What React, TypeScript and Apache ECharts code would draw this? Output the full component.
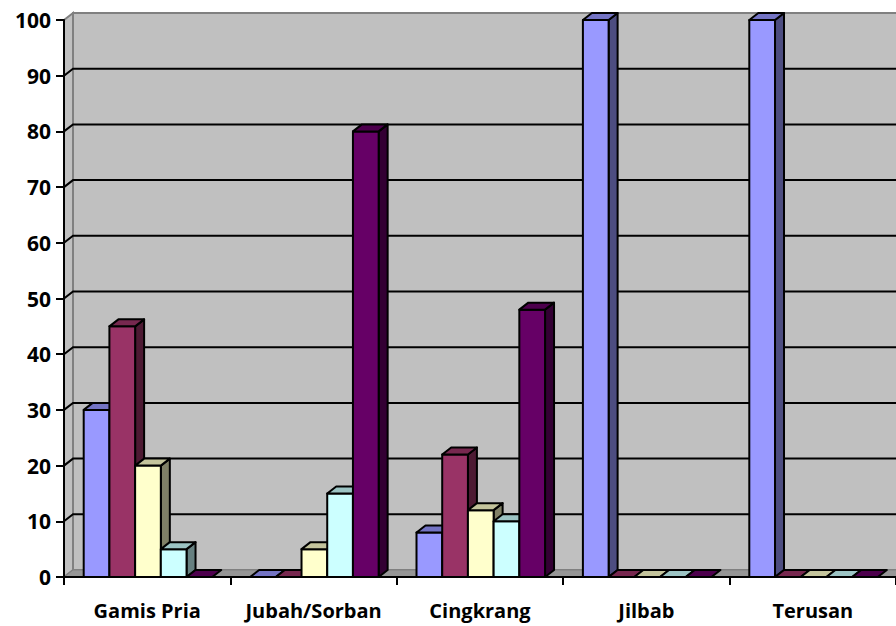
import React, { useEffect, useRef } from 'react';
import * as echarts from 'echarts';

const categories = ['Gamis Pria', 'Jubah/Sorban', 'Cingkrang', 'Jilbab', 'Terusan'];
const yTicks = [0, 10, 20, 30, 40, 50, 60, 70, 80, 90, 100];
const seriesA = [30, 0, 8, 100, 100];
const seriesB = [45, 0, 22, 0, 0];
const seriesC = [20, 5, 12, 0, 0];
const seriesD = [5, 15, 10, 0, 0];
const seriesE = [0, 80, 48, 0, 0];
const seriesNames = ['Seri 1', 'Seri 2', 'Seri 3', 'Seri 4', 'Seri 5'];
const allSeries = [seriesA, seriesB, seriesC, seriesD, seriesE];

const frontColors = ['#9999FF', '#993366', '#FFFFCC', '#CCFFFF', '#660066'];
const topColors = ['#7474C4', '#77284F', '#C4C49C', '#9CC4C4', '#4D004D'];
const sideColors = ['#4D4D80', '#4D1A33', '#808066', '#668080', '#330033'];

const DX = 9;
const DY = 7;
const FONT = '"Open Sans", "Noto Sans", sans-serif';

export default function App() {
  const ref = useRef<HTMLDivElement>(null);
  useEffect(() => {
    if (!ref.current) return;
    const chart = echarts.init(ref.current, null, { renderer: 'svg' });

    const wallSeries: any = {
      type: 'custom',
      name: 'wall',
      silent: true,
      clip: false,
      z: 1,
      data: yTicks.map((v) => [0, v]),
      renderItem: (params: any, api: any) => {
        const cs = params.coordSys;
        const v = api.value(1);
        const p = api.coord([0, v]);
        const left = cs.x;
        const right = cs.x + cs.width + 20;
        const top = cs.y;
        const bottom = cs.y + cs.height;
        const children: any[] = [];
        if (params.dataIndex === 0) {
          children.push({
            type: 'polygon',
            shape: { points: [[left + DX, top - DY], [right, top - DY], [right, bottom - DY], [left + DX, bottom - DY]] },
            style: { fill: '#C0C0C0', stroke: '#808080', lineWidth: 2 },
          });
          children.push({
            type: 'polygon',
            shape: { points: [[left, top], [left + DX, top - DY], [left + DX, bottom - DY], [left, bottom]] },
            style: { fill: '#C0C0C0', stroke: '#808080', lineWidth: 2 },
          });
          children.push({
            type: 'polygon',
            shape: { points: [[left, bottom], [left + DX, bottom - DY], [right, bottom - DY], [right, bottom]] },
            style: { fill: '#969696', stroke: '#808080', lineWidth: 1 },
          });
        } else if (v < 100) {
          children.push({
            type: 'polyline',
            shape: { points: [[left, p[1]], [left + DX, p[1] - DY], [right, p[1] - DY]] },
            style: { stroke: '#000000', lineWidth: 2, fill: 'none' },
          });
        }
        return { type: 'group', children };
      },
    };

    const barSeries = allSeries.map((vals, k) => ({
      type: 'custom',
      name: seriesNames[k],
      clip: false,
      z: 2 + k,
      data: vals.map((v, i) => [i, v]),
      renderItem: (params: any, api: any) => {
        const cat = api.value(0);
        const v = api.value(1);
        const c = api.coord([cat, v]);
        const b = api.coord([cat, 0]);
        const cw = api.size([1, 0])[0];
        const bw = cw * 0.1545;
        const x0 = c[0] - cw * 0.3816 + k * bw;
        const x1 = x0 + bw;
        const yt = c[1];
        const yb = b[1];
        const st = { stroke: '#000000', lineWidth: 2, lineJoin: 'round' };
        const children: any[] = [];
        if (yb - yt > 0.5) {
          children.push({
            type: 'polygon',
            shape: { points: [[x1, yt], [x1 + DX, yt - DY], [x1 + DX, yb - DY], [x1, yb]] },
            style: { ...st, fill: sideColors[k] },
          });
          children.push({
            type: 'polygon',
            shape: { points: [[x0, yt], [x1, yt], [x1, yb], [x0, yb]] },
            style: { ...st, fill: frontColors[k] },
          });
        }
        children.push({
          type: 'polygon',
          shape: { points: [[x0, yt], [x0 + DX, yt - DY], [x1 + DX, yt - DY], [x1, yt]] },
          style: { ...st, fill: topColors[k] },
        });
        return { type: 'group', children };
      },
    }));

    chart.setOption({
      animation: false,
      backgroundColor: '#FFFFFF',
      grid: { left: 64, right: 0, top: 20, bottom: 49, containLabel: false },
      xAxis: {
        type: 'category',
        data: categories,
        boundaryGap: true,
        axisLine: { show: true, lineStyle: { color: '#000000', width: 2 } },
        axisTick: { show: true, interval: 0, alignWithLabel: false, length: 8, lineStyle: { color: '#000000', width: 2 } },
        axisLabel: { color: '#000000', interval: 0, hideOverlap: false, fontSize: 20, fontWeight: 'bold', fontFamily: FONT, margin: 23 },
        splitLine: { show: false },
        z: 10,
      },
      yAxis: {
        type: 'value',
        min: 0,
        max: 100,
        interval: 10,
        axisLine: { show: true, lineStyle: { color: '#000000', width: 2 } },
        axisTick: { show: true, length: 8, lineStyle: { color: '#000000', width: 2 } },
        axisLabel: { color: '#000000', fontSize: 21, fontWeight: 'bold', fontFamily: FONT, margin: 13 },
        splitLine: { show: false },
        z: 10,
      },
      series: [wallSeries, ...barSeries],
    });
    return () => chart.dispose();
  }, []);
  return <div ref={ref} style={{ width: 896, height: 626, position: 'absolute', left: 0, top: 0 }} />;
}
